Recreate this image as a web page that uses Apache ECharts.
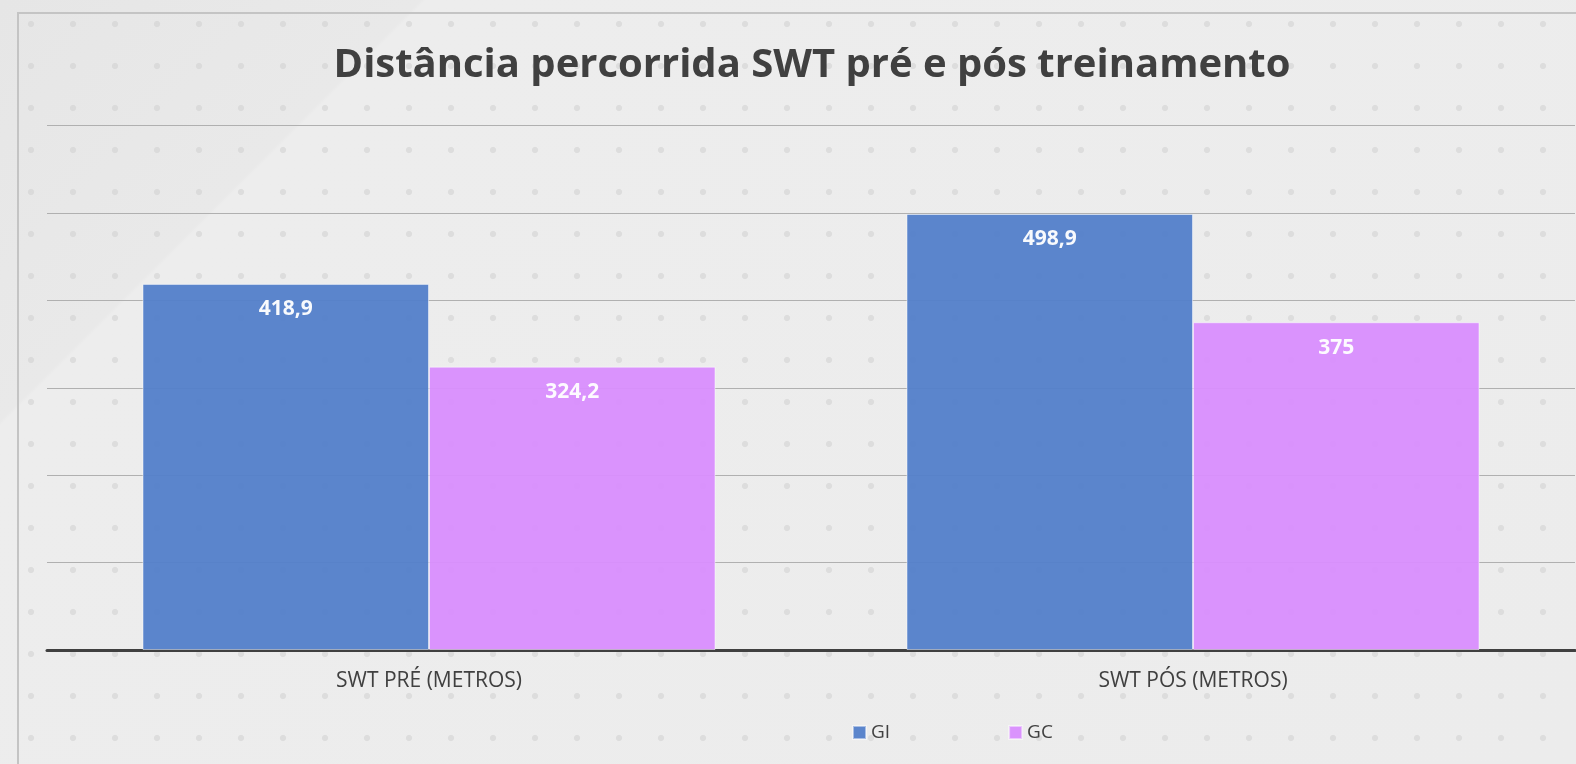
<!DOCTYPE html>
<html><head><meta charset="utf-8">
<script src="https://cdn.jsdelivr.net/npm/echarts@6/dist/echarts.min.js"></script>
<style>
html,body{margin:0;padding:0;background:#ececec;}
#wrap{position:relative;width:1576px;height:764px;overflow:hidden;
 background:
  radial-gradient(circle, rgba(205,205,205,0.5) 2.6px, transparent 3.6px) 10px 3px/42px 42px,
  linear-gradient(135deg, #e6e6e6 0%, #e9e9e9 18%, #ededed 18.2%, #ececec 100%);}
#frame{position:absolute;left:17px;top:12px;width:1600px;height:800px;border-left:2px solid #c4c4c4;border-top:2px solid #c4c4c4;}
#chart{position:absolute;left:0;top:0;width:1576px;height:764px;}
</style></head>
<body><div id="wrap"><div id="frame"></div><div id="chart"></div></div>
<script>
const titleText = 'Distância percorrida SWT pré e pós treinamento';
const categories = ['SWT PRÉ (METROS)', 'SWT PÓS (METROS)'];
const seriesNames = ['GI', 'GC'];
const giValues = [418.9, 498.9];
const gcValues = [324.2, 375];
const giLabels = ['418,9', '498,9'];
const gcLabels = ['324,2', '375'];
const yMin = 0, yMax = 600, yInterval = 100;

const chart = echarts.init(document.getElementById('chart'), null, {renderer: 'canvas'});
const FONT = '"Open Sans", "Noto Sans", sans-serif';
function bar(name, values, labels, color) {
  return {
    name: name, type: 'bar', data: values,
    barGap: '0%', barCategoryGap: '25%',
    itemStyle: {color: color, opacity: 0.96, borderColor: 'rgba(255,255,255,0.5)', borderWidth: 1},
    label: {show: true, position: 'insideTop', distance: 15, color: '#ffffff', fontWeight: 'bold',
      fontSize: 21, fontFamily: FONT, formatter: p => labels[p.dataIndex]},
    emphasis: {disabled: true}
  };
}
chart.setOption({
  backgroundColor: 'transparent',
  animation: false,
  title: {text: titleText, left: 807, top: 41, textAlign: 'center',
    textStyle: {fontFamily: FONT, fontWeight: 'bold', fontSize: 40, color: '#404040'}},
  grid: {left: 47, right: 1, top: 125.6, bottom: 114, containLabel: false},
  legend: {data: seriesNames, left: 847, top: 718, itemWidth: 13, itemHeight: 13, itemGap: 118,
    icon: 'rect', textStyle: {fontFamily: FONT, fontSize: 19, color: '#404040'}},
  xAxis: {type: 'category', data: categories,
    axisLine: {lineStyle: {color: '#404040', width: 3}},
    axisTick: {show: false},
    axisLabel: {fontFamily: FONT, fontSize: 21, color: '#404040', margin: 21}},
  yAxis: {type: 'value', min: yMin, max: yMax, interval: yInterval,
    axisLine: {show: false}, axisTick: {show: false}, axisLabel: {show: false},
    splitLine: {lineStyle: {color: '#b0b0b0', width: 1}}},
  series: [bar(seriesNames[0], giValues, giLabels, '#5480ca'), bar(seriesNames[1], gcValues, gcLabels, '#d98ffd')]
});
</script></body></html>
